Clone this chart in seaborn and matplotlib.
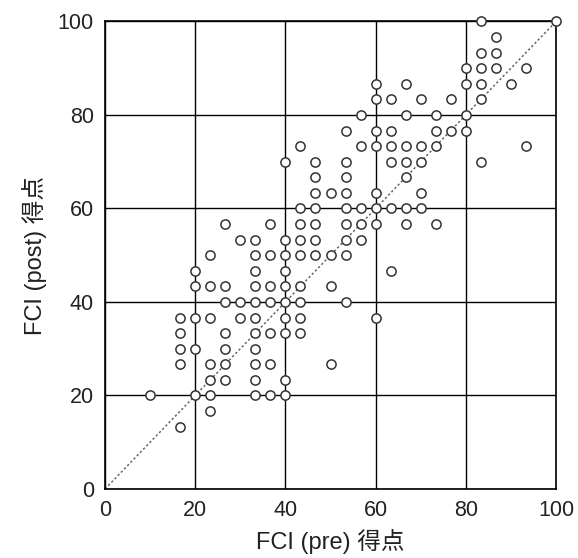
import numpy as np
import pandas as pd
import matplotlib
matplotlib.use("Agg")
import matplotlib.pyplot as plt
import seaborn as sns

# FCI raw scores (number correct out of 30), one point per student
pre_score = [
    5,
    7,
    3, 6, 7, 10, 11, 12,
    7, 8, 10, 12,
    5, 7, 8, 10, 11, 15,
    5, 6, 8, 10,
    5, 8, 10, 11, 12, 13,
    5, 6, 7, 9, 10, 12, 13, 18,
    8, 9, 10, 11, 12, 13, 16,
    6, 7, 8, 10, 11, 12, 13, 15,
    6, 10, 12, 19,
    7, 10, 11, 12, 13, 14, 15, 16,
    9, 10, 12, 13, 14, 16, 17,
    8, 11, 13, 14, 16, 17, 18, 20, 22,
    13, 14, 16, 17, 18, 19, 20, 21,
    14, 15, 16, 18, 21,
    14, 16, 20,
    12, 14, 16, 19, 20, 21, 25,
    13, 17, 18, 19, 20, 21, 22, 28,
    16, 18, 19, 22, 23, 24,
    17, 20, 22, 24,
    18, 19, 21, 23, 25,
    18, 20, 24, 25, 27,
    24, 25, 26, 28,
    25, 26,
    26,
    25, 30,
]
post_score = [
    4,
    5,
    6, 6, 6, 6, 6, 6,
    7, 7, 7, 7,
    8, 8, 8, 8, 8, 8,
    9, 9, 9, 9,
    10, 10, 10, 10, 10, 10,
    11, 11, 11, 11, 11, 11, 11, 11,
    12, 12, 12, 12, 12, 12, 12,
    13, 13, 13, 13, 13, 13, 13, 13,
    14, 14, 14, 14,
    15, 15, 15, 15, 15, 15, 15, 15,
    16, 16, 16, 16, 16, 16, 16,
    17, 17, 17, 17, 17, 17, 17, 17, 17,
    18, 18, 18, 18, 18, 18, 18, 18,
    19, 19, 19, 19, 19,
    20, 20, 20,
    21, 21, 21, 21, 21, 21, 21,
    22, 22, 22, 22, 22, 22, 22, 22,
    23, 23, 23, 23, 23, 23,
    24, 24, 24, 24,
    25, 25, 25, 25, 25,
    26, 26, 26, 26, 26,
    27, 27, 27, 27,
    28, 28,
    29,
    30, 30,
]
max_score = 30
ticks = [0, 20, 40, 60, 80, 100]
xlabel = "FCI (pre) 得点"
ylabel = "FCI (post) 得点"

df = pd.DataFrame({
    "pre": np.array(pre_score) * 100.0 / max_score,
    "post": np.array(post_score) * 100.0 / max_score,
})

sns.set_theme(style="white")
plt.rcParams["font.family"] = ["Liberation Sans", "Noto Sans CJK JP", "DejaVu Sans"]

fig = plt.figure(figsize=(5.78, 5.58), dpi=100)
ax = fig.add_axes([0.1817, 0.1237, 0.7803, 0.8378])

ax.set_axisbelow(True)
ax.grid(True, color="black", linewidth=1.0, zorder=0)
ax.plot([0, 100], [0, 100], linestyle=(0, (1.5, 1.5)), color="#666666",
        linewidth=1.1, zorder=1, clip_on=False)

sns.scatterplot(data=df, x="pre", y="post", ax=ax, marker="o", s=44,
                facecolor="white", edgecolor="#333333", linewidth=1.1,
                zorder=5, legend=False, clip_on=False)

ax.set_xlim(0, 100)
ax.set_ylim(0, 100)
ax.set_xticks(ticks)
ax.set_yticks(ticks)
ax.tick_params(axis="both", length=0, labelsize=15.5, pad=8, colors="#222222")
for sp in ax.spines.values():
    sp.set_color("black")
    sp.set_linewidth(1.2)
    sp.set_zorder(4)

ax.set_xlabel(xlabel, fontsize=17, color="#222222", labelpad=6)
ax.set_ylabel(ylabel, fontsize=17, color="#222222", labelpad=8)

fig.savefig("out.png", dpi=100)
